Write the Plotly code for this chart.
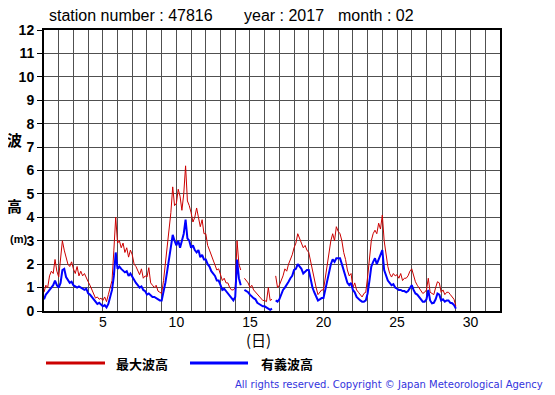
import plotly.graph_objects as go

# ---- data (3-hourly readings, day of month) ----
start_day = 1.0
step_day = 0.125
wave_sig = [
    0.5, 0.7, 0.8, 0.9, 1.0, 1.1, 1.3, 1.1,
    1.0, 1.2, 1.75, 1.8, 1.45, 1.3, 1.2, 1.25,
    1.1, 1.05, 1.0, 1.05, 1.0, 0.95, 0.9, 0.95,
    0.75, 0.7, 0.6, 0.45, 0.35, 0.3, 0.35, 0.25,
    0.2, 0.25, 0.15, 0.3, 0.6, 0.9, 1.5, 2.5,
    1.8, 1.9, 1.8, 1.7, 1.65, 1.7, 1.5, 1.6,
    1.45, 1.3, 1.2, 1.1, 1.0, 1.05, 0.9, 0.85,
    0.7, 0.75, 0.65, 0.6, 0.6, 0.55, 0.5, 0.45,
    0.45, 0.8, 1.2, 1.7, 2.2, 2.6, 3.25, 3.0,
    2.8, 3.0, 2.7, 3.0, 3.3, 3.9, 3.1, 3.0,
    2.7, 2.8, 2.6, 2.5, 2.6, 2.3, 2.4, 2.2,
    2.2, 2.0, 1.9, 1.7, 1.6, 1.5, 1.3, 1.3,
    1.1, 0.9, 0.95, 0.85, 0.8, 0.7, 0.55, 0.45,
    0.6, 2.2, 1.4, 1.1, None, 0.9, 0.85, 0.8,
    0.7, 0.6, 0.55, 0.5, 0.35, 0.3, 0.25, 0.2,
    0.2, 0.15, 0.1, 0.05, 0.1, None, 0.45, 0.4,
    0.5, 0.75, 0.9, 1.0, 1.1, 1.25, 1.4, 1.5,
    1.75, 1.8, 2.0, 1.9, 1.8, 1.6, 1.7, 1.75,
    1.75, 1.4, 1.0, 0.8, 0.6, 0.45, 0.5, 0.55,
    0.55, 0.9, 1.3, 1.7, 2.0, 2.2, 2.1, 2.25,
    2.25, 2.25, 2.0, 1.75, 1.5, 1.2, 1.1, 1.2,
    0.9, 0.8, 0.6, 0.5, 0.45, 0.4, 0.4, 0.45,
    0.75, 1.3, 1.9, 2.1, 2.25, 2.0, 2.2, 2.4,
    2.6, 1.75, 1.5, 1.3, 1.2, 1.1, 1.15, 1.0,
    0.95, 0.9, 0.9, 0.85, 0.85, 0.8, 0.85, 1.0,
    1.1, 0.9, 0.75, 0.7, 0.6, 0.5, 0.4, 0.4,
    0.5, 0.9, 0.45, 0.33, 0.35, 0.5, 0.75, 0.7,
    0.45, 0.5, 0.4, 0.45, 0.45, 0.35, 0.33, 0.25,
    0.1,
]
wave_max = [
    0.8, 1.1, 1.0, 1.5, 1.7, 1.6, 2.2, 1.7,
    1.45, 2.1, 3.0, 2.6, 2.3, 2.0, 1.9, 2.1,
    1.8, 1.6, 1.9, 1.5, 1.7, 1.5, 1.6, 1.4,
    1.25, 1.1, 0.9, 0.7, 0.55, 0.6, 0.5, 0.55,
    0.45, 0.6, 0.4, 0.7, 1.0, 1.3, 2.6, 4.0,
    2.9, 3.0, 2.7, 2.9, 2.5, 2.7, 2.3, 2.6,
    2.4, 2.0, 1.9, 1.7, 1.55, 1.8, 1.4, 1.5,
    1.45, 1.85, 1.2, 1.1, 1.0, 1.1, 0.85, 0.8,
    0.75, 1.3, 2.0, 2.8, 3.5, 4.2, 5.3, 4.5,
    4.6, 5.2, 4.9, 4.3, 5.0, 6.2, 4.7, 4.5,
    4.2, 3.8, 4.0, 4.4, 4.0, 3.6, 3.9, 3.3,
    3.3, 2.8, 2.6, 2.4, 2.2, 2.0, 1.75, 1.8,
    1.5, 1.3, 1.4, 1.2, 1.2, 1.0, 0.9, 0.9,
    1.0, 3.0, 2.0, 1.75, None, 1.4, 1.3, 1.2,
    1.0, 1.1, 0.9, 0.8, 0.75, 0.6, 0.5, 0.45,
    0.45, 0.4, 1.0, 0.45, 0.5, None, 1.5, 1.0,
    1.1, 1.3, 1.5, 1.8, 1.7, 2.0, 2.2, 2.4,
    2.7, 2.9, 3.3, 3.1, 2.9, 2.7, 2.8, 2.6,
    2.5, 2.1, 1.7, 1.3, 1.0, 0.7, 0.8, 0.9,
    0.9, 1.4, 1.9, 2.6, 3.0, 3.3, 3.0, 3.6,
    3.4, 3.3, 3.0, 2.5, 2.2, 1.75, 1.5, 1.6,
    1.0, 1.2, 0.9, 0.8, 0.7, 0.6, 0.75, 0.8,
    1.45, 2.2, 3.0, 3.3, 3.45, 3.3, 3.75, 3.5,
    4.1, 3.0, 2.4, 1.9, 1.6, 1.45, 1.6, 1.5,
    1.55, 1.4, 1.6, 1.3, 1.4, 1.4, 1.5, 1.7,
    1.8, 1.5, 1.25, 1.1, 1.0, 0.9, 0.75, 0.8,
    0.9, 1.4, 0.8, 0.75, 0.7, 1.0, 1.25, 1.2,
    0.8, 0.9, 0.7, 0.8, 0.8, 0.7, 0.6, 0.5,
    0.2,
]
days = [start_day + i * step_day for i in range(len(wave_sig))]
x_ticks = [5, 10, 15, 20, 25, 30]
y_ticks = list(range(0, 13))

RED = "#cc0000"
BLUE = "#0000ff"

# page body has an 8px margin; work in reference pixels and subtract it
OFF = 8
W, H = 555 - OFF, 395 - OFF
L, R, T, B = 44 - OFF, 500 - OFF, 30 - OFF, 311 - OFF


def px(x):
    return (x - OFF - L) / (R - L)


def py(y):
    return (B - (y - OFF)) / (B - T)


fig = go.Figure()
fig.add_trace(go.Scatter(x=days, y=wave_max, mode="lines", name="最大波高",
                         line=dict(color=RED, width=1), connectgaps=False,
                         showlegend=False))
fig.add_trace(go.Scatter(x=days, y=wave_sig, mode="lines", name="有義波高",
                         line=dict(color=BLUE, width=2), connectgaps=False,
                         showlegend=False))

font_main = "Liberation Sans, Arial, sans-serif"
cjk = "Noto Sans CJK JP, sans-serif"

fig.update_layout(
    width=W, height=H,
    margin=dict(l=L, r=W - R, t=T, b=H - B, pad=0),
    paper_bgcolor="white", plot_bgcolor="white",
    xaxis=dict(range=[1, 32], tickvals=x_ticks, ticktext=[str(v) for v in x_ticks],
               showgrid=True, gridcolor="#505050", gridwidth=1,
               minor=dict(dtick=1, tick0=1, showgrid=True, gridcolor="#505050", gridwidth=1),
               showline=True, linecolor="black", linewidth=2, mirror=True,
               ticks="", zeroline=False, ticklabelstandoff=-3,
               tickfont=dict(family=font_main, size=14, color="black")),
    yaxis=dict(range=[0, 12], tickvals=y_ticks, ticktext=[str(v) for v in y_ticks],
               showgrid=True, gridcolor="#505050", gridwidth=1,
               showline=True, linecolor="black", linewidth=2, mirror=True,
               ticks="outside", ticklen=5, tickcolor="black", zeroline=False,
               tickfont=dict(family=font_main, size=14, color="black", weight="bold")),
)

title_font = dict(family=font_main, size=16, color="black")
annotations = [
    dict(x=px(47), y=py(16), text="station number : 47816",
         xanchor="left", yanchor="middle", showarrow=False, font=title_font),
    dict(x=px(242), y=py(16), text="year : 2017",
         xanchor="left", yanchor="middle", showarrow=False, font=title_font),
    dict(x=px(336), y=py(16), text="month : 02",
         xanchor="left", yanchor="middle", showarrow=False, font=title_font),
    dict(x=px(14), y=py(139), text="<b>波</b>", xanchor="center", yanchor="middle", showarrow=False,
         font=dict(family=cjk, size=15, color="black")),
    dict(x=px(14), y=py(205), text="<b>高</b>", xanchor="center", yanchor="middle", showarrow=False,
         font=dict(family=cjk, size=15, color="black")),
    dict(x=px(8), y=py(239), text="<b>(m)</b>", xanchor="left", yanchor="middle", showarrow=False,
         font=dict(family=font_main, size=11, color="black")),
    dict(x=px(258), y=py(339), text="(日)", xanchor="center", yanchor="middle", showarrow=False,
         font=dict(family=cjk, size=15, color="black")),
    dict(x=px(114), y=py(363), text="<b>最大波高</b>", xanchor="left", yanchor="middle", showarrow=False,
         font=dict(family=cjk, size=13, color="black")),
    dict(x=px(259), y=py(363), text="<b>有義波高</b>", xanchor="left", yanchor="middle", showarrow=False,
         font=dict(family=cjk, size=13, color="black")),
    dict(x=px(545), y=py(384), text="All rights reserved. Copyright © Japan Meteorological Agency",
         xanchor="right", yanchor="middle", showarrow=False,
         font=dict(family="DejaVu Sans, sans-serif", size=10, color="#3333dd")),
]
for a in annotations:
    a["xref"] = "paper"
    a["yref"] = "paper"
fig.update_layout(annotations=annotations)

fig.add_shape(type="line", xref="paper", yref="paper",
              x0=px(46), x1=px(105), y0=py(363), y1=py(363),
              line=dict(color=RED, width=3))
fig.add_shape(type="line", xref="paper", yref="paper",
              x0=px(190), x1=px(248), y0=py(363), y1=py(363),
              line=dict(color=BLUE, width=3))

fig.write_html("out.html")
